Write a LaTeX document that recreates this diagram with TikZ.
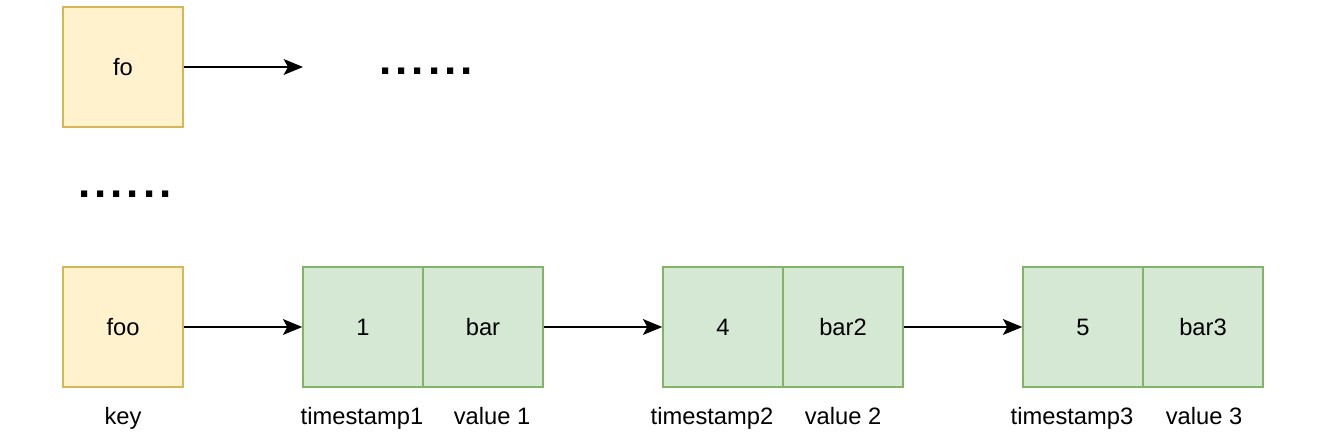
\documentclass[tikz,border=0pt]{standalone}
\usepackage{fontspec}
\setmainfont{Liberation Sans}
\usepackage{tikz}
\usetikzlibrary{positioning, arrows.meta, calc}

\definecolor{keyfill}{HTML}{FFF2CC}
\definecolor{keyline}{HTML}{D6B656}
\definecolor{cellfill}{HTML}{D5E8D4}
\definecolor{cellline}{HTML}{82B366}

\begin{document}
\begin{tikzpicture}[x=0.02cm, y=-0.02cm, every node/.style={font=\fontsize{13.5}{16}\selectfont, text height=2.1ex, text depth=0.3ex}]
			\tikzstyle{keybox}=[draw=keyline, line width=0.85pt, minimum height=2.4cm, minimum width=2.4cm, fill=keyfill, text=black, inner sep=0pt]
			\tikzstyle{cellbox}=[draw=cellline, line width=0.85pt, minimum height=2.4cm, minimum width=2.4cm, fill=cellfill, text=black, inner sep=0pt]
			\tikzstyle{link}=[-{Stealth[length=11pt, width=9pt, inset=2.5pt]}, line width=1.1pt, black]
			\tikzstyle{more}=[font=\fontsize{25}{25}\selectfont\bfseries\addfontfeature{LetterSpace=9}, text height=1.5ex, text depth=0.75ex]
			
			\useasboundingbox (0,0) rectangle (1344,448);
			
			\node (kfo) at (123,67) [keybox] {fo};
			\node (kfoo) at (123,327) [keybox] {foo};
			
			\node (t1) at (363,327) [cellbox] {1};
			\node (v1) at (483,327) [cellbox] {bar};
			\node (t2) at (723,327) [cellbox] {4};
			\node (v2) at (843,327) [cellbox] {bar2};
			\node (t3) at (1083,327) [cellbox] {5};
			\node (v3) at (1203,327) [cellbox] {bar3};
			
			\coordinate (fend) at (303,67);
			\node (dots1) at (426,71) [more] {......};
			\node (dots2) at (125,194) [more] {......};
			
			\draw [link] (kfo.east) -- (fend);
			\draw [link] (kfoo.east) -- (t1.west);
			\draw [link] (v1.east) -- (t2.west);
			\draw [link] (v2.east) -- (t3.west);
			
			\node (lk) at (123,416) {key};
			\node (lt1) at (362,416) {timestamp1};
			\node (lv1) at (492,416) {value 1};
			\node (lt2) at (712,416) {timestamp2};
			\node (lv2) at (843,416) {value 2};
			\node (lt3) at (1072,416) {timestamp3};
			\node (lv3) at (1204,416) {value 3};
\end{tikzpicture}
\end{document}
